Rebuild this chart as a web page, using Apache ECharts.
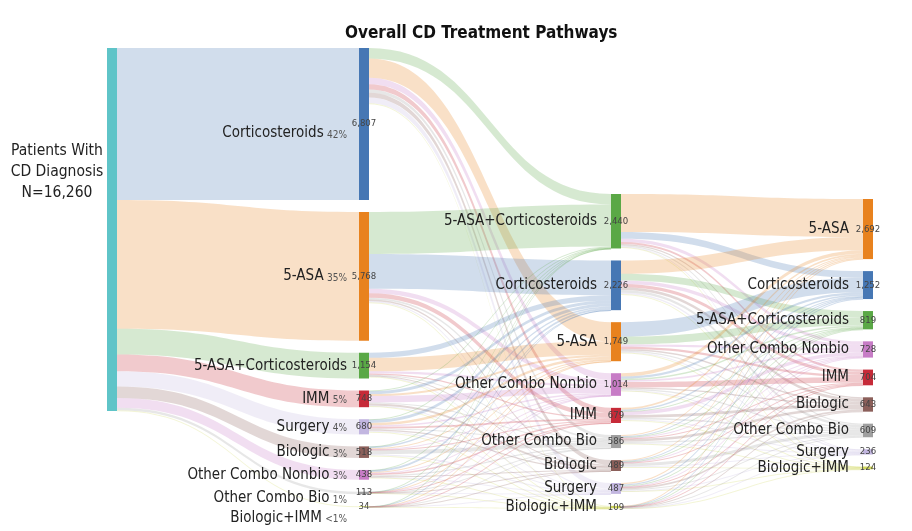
<!DOCTYPE html>
<html><head><meta charset="utf-8">
<script src="https://cdn.jsdelivr.net/npm/echarts@6/dist/echarts.min.js"></script>
<style>html,body{margin:0;padding:0;background:#fff}#c{width:912px;height:531px}</style>
</head><body><div id="c"></div>
<script>
const rootLabel = 'Patients With\nCD Diagnosis\nN=16,260';
const line1Order = ['Corticosteroids','5-ASA','5-ASA+Corticosteroids','IMM','Surgery','Biologic','Other Combo Nonbio','Other Combo Bio','Biologic+IMM'];
const line1Values = [6807,5768,1154,748,680,518,438,113,34];
const line1Pct = ['42%','35%','','5%','4%','3%','3%','1%','<1%'];
const line2Order = ['5-ASA+Corticosteroids','Corticosteroids','5-ASA','Other Combo Nonbio','IMM','Other Combo Bio','Biologic','Surgery','Biologic+IMM'];
const line2Values = [2440,2226,1749,1014,679,586,489,487,109];
const line3Order = ['5-ASA','Corticosteroids','5-ASA+Corticosteroids','Other Combo Nonbio','IMM','Biologic','Other Combo Bio','Surgery','Biologic+IMM'];
const line3Values = [2692,1252,819,728,704,643,609,236,124];
// rows: line1Order (source), cols: line2Order (target)
const flows1to2 = [
  [471, 0, 857, 300, 227, 150, 212, 259, 40],
  [1881, 1563, 0, 200, 200, 80, 60, 60, 15],
  [0, 230, 600, 100, 60, 30, 25, 25, 5],
  [30, 130, 90, 290, 0, 40, 90, 20, 15],
  [30, 140, 110, 60, 80, 40, 60, 40, 5],
  [10, 70, 40, 25, 30, 176, 0, 60, 22],
  [15, 80, 45, 25, 75, 50, 30, 15, 4],
  [2, 8, 4, 12, 5, 12, 10, 6, 2],
  [1, 5, 3, 2, 2, 8, 2, 2, 1]
];
// rows: line2Order (source), cols: line3Order (target)
const flows2to3 = [
  [1700, 300, 0, 150, 90, 60, 50, 20, 5],
  [600, 0, 300, 150, 150, 120, 120, 60, 20],
  [0, 650, 350, 100, 100, 70, 60, 30, 10],
  [150, 100, 60, 80, 250, 60, 50, 20, 8],
  [80, 60, 30, 150, 0, 120, 70, 30, 25],
  [50, 40, 20, 40, 30, 120, 60, 20, 15],
  [40, 30, 20, 20, 40, 0, 130, 30, 25],
  [60, 60, 30, 30, 35, 70, 50, 20, 10],
  [12, 12, 9, 8, 9, 23, 19, 6, 6]
];

const colors = {
  'root': '#5fc4c8',
  'Corticosteroids': '#4677b4',
  '5-ASA': '#e8821e',
  '5-ASA+Corticosteroids': '#5aa846',
  'IMM': '#c62a38',
  'Surgery': '#c2b6e0',
  'Biologic': '#8b5f5a',
  'Other Combo Nonbio': '#c77cc6',
  'Other Combo Bio': '#a0a0a0',
  'Biologic+IMM': '#cfd65a'
};
const FF = "'Liberation Sans Narrow','DejaVu Sans Condensed','Roboto Condensed','Arial Narrow',Roboto,sans-serif";
const colShift = {1: 0, 2: 146, 3: 151};
const nameOffset1 = {0: 9, 7: 5, 8: 11};

function fmt(v){ return v.toLocaleString('en-US'); }

function buildNodes(valueSeries){
  const nodes = [];
  nodes.push({
    name: 'root', value: line1Values.reduce((a,b)=>a+b,0),
    itemStyle: {color: colors.root},
    label: valueSeries ? {show:false} : {show:true, position:'left', distance: 9, align:'center', offset:[-41,-58],
      formatter: rootLabel, fontSize: 15.5, lineHeight: 21, color:'#222', fontFamily: FF}
  });
  const levels = [[line1Order,line1Values],[line2Order,line2Values],[line3Order,line3Values]];
  levels.forEach(([order, vals], li) => {
    order.forEach((t, i) => {
      const lvl = li + 1;
      const n = { name: t + '#' + lvl, value: vals[i], itemStyle: {color: colors[t]}, _lvl: lvl };
      if (valueSeries) {
        n.label = {show:true, position:'inside', formatter: fmt(vals[i]), fontSize: 9.5, color:'#444', fontFamily: FF};
      } else {
        const pct = lvl === 1 ? line1Pct[i] : '';
        n.label = {show:true, position:'left', distance: lvl === 1 ? 12 : 14,
          formatter: '{n|' + t + '}' + (pct ? ' {p|' + pct + '}' : ''),
          offset: [0, lvl === 1 && nameOffset1[i] ? nameOffset1[i] : 0],
          rich: { n: {fontSize: 15, color:'#222', fontFamily: FF}, p: {fontSize: 10, color:'#555', fontFamily: FF, padding:[4,0,0,0]} }
        };
      }
      nodes.push(n);
    });
  });
  return nodes;
}
function buildLinks(){
  const links = [];
  line1Order.forEach((t,i)=>links.push({source:'root', target: t+'#1', value: line1Values[i]}));
  flows1to2.forEach((row,i)=>row.forEach((v,j)=>{ if(v>0) links.push({source: line1Order[i]+'#1', target: line2Order[j]+'#2', value: v}); }));
  flows2to3.forEach((row,i)=>row.forEach((v,j)=>{ if(v>0) links.push({source: line2Order[i]+'#2', target: line3Order[j]+'#3', value: v}); }));
  return links;
}

const chart = echarts.init(document.getElementById('c'), null, {renderer:'canvas'});
const nodesA = buildNodes(false), nodesB = buildNodes(true);
const links = buildLinks();
const base = {
  type:'sankey', left:107, right:39, top:48, bottom:24, nodeWidth:10, nodeGap:12,
  layoutIterations:0, draggable:false, nodeAlign:'justify',
  emphasis:{disabled:true}
};
function makeOption(){
  return {
    animation:false,
    title:{text:'Overall CD Treatment Pathways', left:340, top:20,
      textStyle:{fontSize:17, fontWeight:'bold', color:'#111', fontFamily: FF}},
    series:[
      Object.assign({}, base, {data: nodesA, links: links, lineStyle:{color:'target', opacity:0.25, curveness:0.5}}),
      Object.assign({}, base, {data: nodesB, links: links, silent:true, z:3,
        itemStyle:{opacity:0}, lineStyle:{opacity:0}})
    ]
  };
}
chart.setOption(makeOption());
try {
  const sm = chart.getModel().getSeriesByIndex(0);
  const d = sm.getData();
  const H = (sm.layoutInfo && sm.layoutInfo.height) || (531-48-24);
  const ys = {};
  for (let i = 0; i < d.count(); i++) { const l = d.getItemLayout(i); ys[d.getName(i)] = l ? l.y : null; }
  [nodesA, nodesB].forEach(arr => arr.forEach(n => {
    const s = colShift[n._lvl];
    if (s && ys[n.name] != null) n.localY = (ys[n.name] + s) / H;
  }));
  chart.setOption(makeOption());
} catch (e) { console.log(e); }
</script></body></html>
